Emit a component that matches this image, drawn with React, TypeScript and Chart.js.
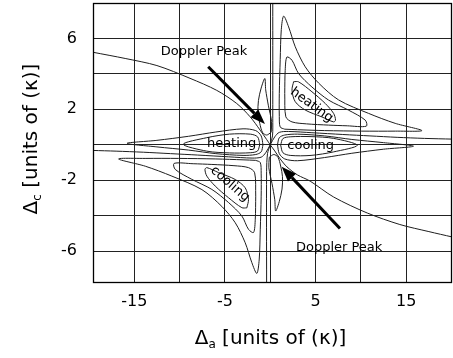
import React, { useEffect, useRef } from "react";
import { Chart, registerables } from "chart.js";

Chart.register(...registerables);

type P = [number, number];

// Axis extents (detuning in units of kappa)
const X_MIN = -19.55;
const X_MAX = 20.05;
const Y_MIN = -7.8;
const Y_MAX = 8;

const xGridValues = [-15, -10, -5, 0, 5, 10, 15];
const xTickLabels = [-15, -5, 5, 15];
const yGridValues = [-6, -4, -2, 0, 2, 4, 6];
const yTickLabels = [6, 2, -2, -6];

// Zero-level lines through the central saddle
const zeroDiagonal: P[] = [
  [-19.55, 5.22], [-16, 4.87], [-12.5, 4.47], [-8.85, 3.75], [-5.9, 3.07], [-3.7, 2.33],
  [-2.22, 1.58], [-1.12, 0.83], [-0.4, 0.3], [0, 0], [0.5, -0.35], [1.1, -0.8],
  [1.85, -1.25], [3.0, -1.7], [4.4, -2.05], [7.0, -2.95], [10.7, -3.85], [14.3, -4.5],
  [17.5, -4.9], [20.05, -5.2],
];
const zeroUp: P[] = [[0, 0], [0.25, 0.5], [0.28, 1.5], [0.28, 8]];
const zeroDown: P[] = [[0, 0], [-0.3, -0.5], [-0.4, -1.5], [-0.4, -7.8]];
const zeroRight: P[] = [
  [0, 0], [0.5, 0.45], [1.0, 0.7], [2.0, 0.75], [4.6, 0.68], [8, 0.58], [11, 0.5],
  [14, 0.42], [17, 0.36], [20.05, 0.32],
];
const zeroLeft: P[] = [
  [0, 0], [-0.5, -0.45], [-1.0, -0.7], [-2.0, -0.75], [-4.6, -0.68], [-8, -0.58], [-11, -0.5],
  [-14, -0.42], [-17, -0.36], [-19.55, -0.32],
];

// Upper-right heating lobe
const heatUpperOuter: P[] = [
  [1.6, 0.88], [1.1, 1.0], [1.0, 1.6], [1.0, 2.9], [1.1, 4.8], [1.22, 6.5], [1.48, 7.26],
  [2.03, 6.65], [2.76, 5.53], [3.86, 4.4], [5.34, 3.48], [7.54, 2.53], [10.85, 1.77],
  [13.78, 1.21], [16.73, 0.8], [13.8, 0.77], [10.1, 0.77], [6, 0.8], [3, 0.85], [1.6, 0.88],
];
const heatUpperMiddle: P[] = [
  [1.6, 2.9], [1.65, 4.2], [1.84, 4.95], [2.4, 4.77], [3.13, 4.02], [4.6, 3.26], [6.44, 2.52],
  [8.65, 1.95], [10.48, 1.39], [10.6, 1.05], [8.5, 1.07], [6.44, 1.11], [4.0, 1.18],
  [2.4, 1.29], [1.72, 1.58], [1.6, 2.9],
];
const heatUpperInner: P[] = [
  [2.58, 3.56], [3.13, 3.55], [4.6, 2.99], [6.07, 2.33], [6.99, 1.77], [7.2, 1.39],
  [6.99, 1.29], [5.7, 1.57], [3.86, 1.96], [2.76, 2.43], [2.4, 3.08], [2.58, 3.56],
];

// Lower-left cooling lobe
const coolLowerOuter: P[] = [
  [-1.6, -0.88], [-1.1, -1.0], [-1.0, -1.6], [-1.0, -2.9], [-1.1, -4.8], [-1.22, -6.5], [-1.48, -7.26],
  [-2.03, -6.65], [-2.76, -5.53], [-3.86, -4.4], [-5.34, -3.48], [-7.54, -2.53], [-10.85, -1.77],
  [-13.78, -1.21], [-16.73, -0.8], [-13.8, -0.77], [-10.1, -0.77], [-6, -0.8], [-3, -0.85], [-1.6, -0.88],
];
const coolLowerMiddle: P[] = [
  [-1.6, -2.9], [-1.65, -4.2], [-1.84, -4.95], [-2.4, -4.77], [-3.13, -4.02], [-4.6, -3.26], [-6.44, -2.52],
  [-8.65, -1.95], [-10.48, -1.39], [-10.6, -1.05], [-8.5, -1.07], [-6.44, -1.11], [-4.0, -1.18],
  [-2.4, -1.29], [-1.72, -1.58], [-1.6, -2.9],
];
const coolLowerInner: P[] = [
  [-2.58, -3.56], [-3.13, -3.55], [-4.6, -2.99], [-6.07, -2.33], [-6.99, -1.77], [-7.2, -1.39],
  [-6.99, -1.29], [-5.7, -1.57], [-3.86, -1.96], [-2.76, -2.43], [-2.4, -3.08], [-2.58, -3.56],
];

// Left heating lobe along the horizontal axis
const heatLeftOuter: P[] = [
  [-0.8, 0], [-1.0, 0.5], [-1.6, 0.8], [-3, 0.9], [-6, 0.72], [-9, 0.48], [-12.5, 0.25],
  [-15.8, 0.08], [-12.5, -0.12], [-9, -0.3], [-6, -0.5], [-3, -0.6], [-1.6, -0.55],
  [-1.0, -0.4], [-0.8, 0],
];
const heatLeftInner: P[] = [
  [-1.15, 0.02], [-1.4, 0.45], [-2.2, 0.6], [-4.5, 0.6], [-7, 0.4], [-9.6, 0.03],
  [-7, -0.36], [-4.5, -0.46], [-2.2, -0.45], [-1.4, -0.35], [-1.15, 0.02],
];

// Right cooling lobe along the horizontal axis
const coolRightOuter: P[] = [
  [0.8, 0], [1.0, -0.5], [1.6, -0.8], [3, -0.9], [6, -0.72], [9, -0.48], [12.5, -0.25],
  [15.8, -0.08], [12.5, 0.12], [9, 0.3], [6, 0.5], [3, 0.6], [1.6, 0.55],
  [1.0, 0.4], [0.8, 0],
];
const coolRightInner: P[] = [
  [1.15, -0.02], [1.4, -0.45], [2.2, -0.6], [4.5, -0.6], [7, -0.4], [9.6, -0.03],
  [7, 0.36], [4.5, 0.46], [2.2, 0.45], [1.4, 0.35], [1.15, -0.02],
];

// Narrow peaks next to the vertical axis
const peakUpper: P[] = [
  [0.1, 0.7], [-0.4, 0.55], [-0.85, 0.7], [-1.15, 1.2], [-1.35, 1.8], [-1.3, 2.5],
  [-1.0, 3.2], [-0.6, 3.74], [-0.5, 3.1], [-0.2, 2.2], [0.15, 1.3], [0.1, 0.7],
];
const peakLower: P[] = [
  [-0.1, -0.7], [0.4, -0.55], [0.85, -0.7], [1.15, -1.2], [1.35, -1.8], [1.3, -2.5],
  [1.0, -3.2], [0.6, -3.74], [0.5, -3.1], [0.2, -2.2], [-0.15, -1.3], [-0.1, -0.7],
];

const contourLines: P[][] = [
  zeroDiagonal, zeroUp, zeroDown, zeroRight, zeroLeft,
  heatUpperOuter, heatUpperMiddle, heatUpperInner,
  coolLowerOuter, coolLowerMiddle, coolLowerInner,
  heatLeftOuter, heatLeftInner, coolRightOuter, coolRightInner,
  peakUpper, peakLower,
];

// Region names (anchor in data units, rotation in degrees)
const regionText = ["heating", "heating", "cooling", "cooling"];
const regionX = [4.57, -4.26, 4.46, -4.44];
const regionY = [2.24, 0.04, -0.02, -2.22];
const regionAngle = [36, 0, 0, 41];

// "Doppler Peak" annotations: label anchor, arrow tail and arrow tip
const peakText = ["Doppler Peak", "Doppler Peak"];
const peakTextX = [-7.31, 7.6];
const peakTextY = [5.27, -5.78];
const arrowTailX = [-6.84, 7.69];
const arrowTailY = [4.4, -4.72];
const arrowTipX = [-0.58, 1.26];
const arrowTipY = [1.17, -1.24];

const FONT = '"DejaVu Sans", "Liberation Sans", sans-serif';

function drawTitle(ctx: CanvasRenderingContext2D, sub: string, rest: string, size: number) {
  ctx.font = `${size}px ${FONT}`;
  const w1 = ctx.measureText("\u0394").width;
  const w3 = ctx.measureText(rest).width;
  ctx.font = `${Math.round(size * 0.6)}px ${FONT}`;
  const w2 = ctx.measureText(sub).width;
  let x = -(w1 + w2 + w3) / 2;
  ctx.textAlign = "left";
  ctx.textBaseline = "alphabetic";
  ctx.font = `${size}px ${FONT}`;
  ctx.fillText("\u0394", x, 0);
  x += w1;
  ctx.font = `${Math.round(size * 0.6)}px ${FONT}`;
  ctx.fillText(sub, x, 4);
  x += w2;
  ctx.font = `${size}px ${FONT}`;
  ctx.fillText(rest, x, 0);
}

const overlayPlugin = {
  id: "overlay",
  afterDraw(chart: any) {
    const { ctx, chartArea, scales } = chart;
    const sx = scales.x;
    const sy = scales.y;
    ctx.save();

    // frame
    ctx.strokeStyle = "#000";
    ctx.lineWidth = 1.3;
    ctx.strokeRect(chartArea.left + 0.5, chartArea.top + 0.5, chartArea.right - chartArea.left - 1, chartArea.bottom - chartArea.top - 1);

    // arrows
    ctx.fillStyle = "#000";
    ctx.strokeStyle = "#000";
    for (let i = 0; i < arrowTailX.length; i++) {
      const x0 = sx.getPixelForValue(arrowTailX[i]);
      const y0 = sy.getPixelForValue(arrowTailY[i]);
      const x1 = sx.getPixelForValue(arrowTipX[i]);
      const y1 = sy.getPixelForValue(arrowTipY[i]);
      const ang = Math.atan2(y1 - y0, x1 - x0);
      const headLen = 15;
      const headHalf = 5.5;
      const bx = x1 - headLen * Math.cos(ang);
      const by = y1 - headLen * Math.sin(ang);
      ctx.lineWidth = 3;
      ctx.beginPath();
      ctx.moveTo(x0, y0);
      ctx.lineTo(bx, by);
      ctx.stroke();
      ctx.beginPath();
      ctx.moveTo(x1, y1);
      ctx.lineTo(bx + headHalf * Math.sin(ang), by - headHalf * Math.cos(ang));
      ctx.lineTo(bx - headHalf * Math.sin(ang), by + headHalf * Math.cos(ang));
      ctx.closePath();
      ctx.fill();
    }

    // annotation text
    ctx.font = `13px ${FONT}`;
    ctx.textAlign = "center";
    ctx.textBaseline = "middle";
    for (let i = 0; i < peakText.length; i++) {
      ctx.fillText(peakText[i], sx.getPixelForValue(peakTextX[i]), sy.getPixelForValue(peakTextY[i]));
    }
    for (let i = 0; i < regionText.length; i++) {
      ctx.save();
      ctx.translate(sx.getPixelForValue(regionX[i]), sy.getPixelForValue(regionY[i]));
      ctx.rotate((regionAngle[i] * Math.PI) / 180);
      ctx.fillText(regionText[i], 0, 0);
      ctx.restore();
    }

    // axis titles
    ctx.fillStyle = "#000";
    ctx.save();
    ctx.translate((chartArea.left + chartArea.right) / 2 - 2, 344);
    drawTitle(ctx, "a", " [units of (\u03BA)]", 20);
    ctx.restore();
    ctx.save();
    ctx.translate(37, (chartArea.top + chartArea.bottom) / 2 - 4);
    ctx.rotate(-Math.PI / 2);
    drawTitle(ctx, "c", " [units of (\u03BA)]", 20);
    ctx.restore();

    ctx.restore();
  },
};

export default function App() {
  const canvasRef = useRef<HTMLCanvasElement | null>(null);

  useEffect(() => {
    if (!canvasRef.current) return;
    const datasets = contourLines.map((line) => ({
      data: line.map(([x, y]) => ({ x, y })),
      showLine: true,
      pointRadius: 0,
      borderColor: "#1e1e1e",
      borderWidth: 1,
      tension: 0.3,
      fill: false,
    }));
    const chart = new Chart(canvasRef.current, {
      type: "scatter",
      data: { datasets },
      options: {
        animation: false,
        responsive: true,
        maintainAspectRatio: false,
        layout: { padding: { top: 3, right: 1, left: 0, bottom: 0 } },
        plugins: { legend: { display: false }, tooltip: { enabled: false } },
        scales: {
          x: {
            type: "linear",
            min: X_MIN,
            max: X_MAX,
            afterBuildTicks: (s: any) => {
              s.ticks = xGridValues.map((v) => ({ value: v }));
            },
            afterFit: (s: any) => {
              s.height = 75;
              s.paddingLeft = 0;
              s.paddingRight = 0;
              s.paddingTop = 0;
              s.paddingBottom = 0;
            },
            ticks: {
              autoSkip: false,
              maxRotation: 0,
              padding: 9,
              color: "#000",
              font: { family: FONT, size: 16 },
              callback: (v: any) => (xTickLabels.includes(Number(v)) ? String(v) : ""),
            },
            grid: { color: "#222", lineWidth: 1, drawTicks: false },
            border: { display: false },
          },
          y: {
            type: "linear",
            min: Y_MIN,
            max: Y_MAX,
            afterBuildTicks: (s: any) => {
              s.ticks = yGridValues.map((v) => ({ value: v }));
            },
            afterFit: (s: any) => {
              s.width = 93;
              s.paddingLeft = 0;
              s.paddingRight = 0;
              s.paddingTop = 0;
              s.paddingBottom = 0;
            },
            ticks: {
              autoSkip: false,
              padding: 16,
              color: "#000",
              font: { family: FONT, size: 16 },
              callback: (v: any) => (yTickLabels.includes(Number(v)) ? String(v) : ""),
            },
            grid: { color: "#222", lineWidth: 1, drawTicks: false },
            border: { display: false },
          },
        },
      },
      plugins: [overlayPlugin],
    });
    return () => chart.destroy();
  }, []);

  return (
    <div style={{ position: "absolute", left: 0, top: 0, width: 453, height: 358, background: "#fff" }}>
      <canvas ref={canvasRef} />
    </div>
  );
}
